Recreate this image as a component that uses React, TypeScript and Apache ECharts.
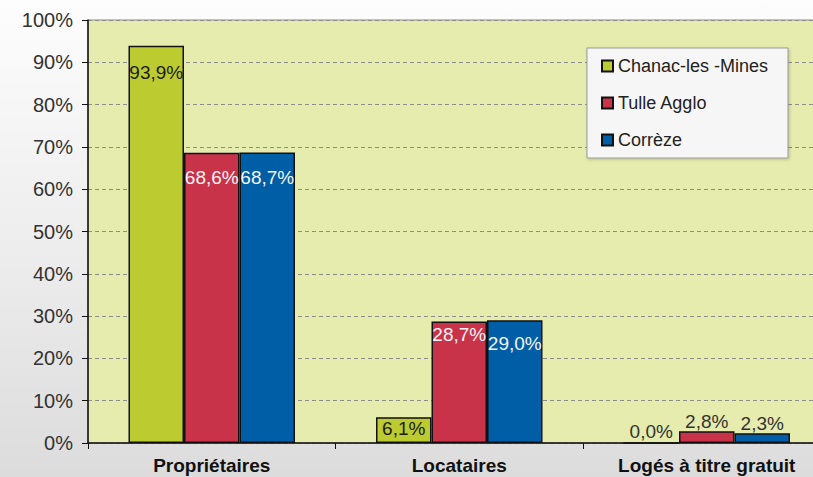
import React, { useEffect, useRef } from "react";
import * as echarts from "echarts";

// Statut d'occupation des résidences principales
const categories = ["Propriétaires", "Locataires", "Logés à titre gratuit"];
const seriesNames = ["Chanac-les -Mines", "Tulle Agglo", "Corrèze"];
const chanac = [93.9, 6.1, 0.0];
const tulle = [68.6, 28.7, 2.8];
const correze = [68.7, 29.0, 2.3];
const yTicks = [0, 10, 20, 30, 40, 50, 60, 70, 80, 90, 100];

const FONT = "'Liberation Sans', Arial, sans-serif";
const colors = ["#bccb30", "#c8334a", "#005ea6"];
const insideLabelColors = ["#1c1c1c", "#f4f4f4", "#f4f4f4"];

// label placement per series/category: [position, distance]
const labelPlacement: [string, number][][] = [
  [["insideTop", 17], ["insideTop", 2], ["top", 1]],
  [["insideTop", 15], ["insideTop", 3], ["top", 0]],
  [["insideTop", 16], ["insideTop", 14], ["top", 0]],
];

const fmt = (v: number) => v.toFixed(1).replace(".", ",") + "%";

export default function App() {
  const ref = useRef<HTMLDivElement>(null);

  useEffect(() => {
    if (!ref.current) return;
    const chart = echarts.init(ref.current, null, { renderer: "svg" });
    const values = [chanac, tulle, correze];

    const series = values.map((vals, s) => ({
      name: seriesNames[s],
      type: "bar",
      barWidth: 55.5,
      barGap: "0%",
      itemStyle: { color: colors[s], borderColor: "#111", borderWidth: 1.5 },
      data: vals.map((v, i) => {
        const [pos, dist] = labelPlacement[s][i];
        return {
          value: v,
          label: {
            show: true,
            position: pos,
            distance: dist,
            color: pos === "top" ? "#333" : insideLabelColors[s],
          },
        };
      }),
      label: {
        show: true,
        fontFamily: FONT,
        fontSize: 19,
        formatter: (p: any) => fmt(p.value),
      },
    }));

    chart.setOption({
      animation: false,
      backgroundColor: "transparent",
      textStyle: { fontFamily: FONT },
      grid: {
        left: 88,
        top: 20,
        width: 742.5,
        height: 423,
        outerBoundsMode: "none",
        containLabel: false,
        show: true,
        backgroundColor: "#e6ebae",
        borderColor: "#8a8a8a",
        borderWidth: 1,
      },
      graphic: [
        {
          type: "rect",
          z: 1,
          shape: { x: 587, y: 48, width: 201, height: 110 },
          style: {
            fill: "#f6f6f6",
            stroke: "#9a9a9a",
            lineWidth: 1,
            shadowBlur: 3,
            shadowColor: "rgba(0,0,0,0.2)",
            shadowOffsetX: 1,
            shadowOffsetY: 1,
          },
        },
      ],
      legend: {
        z: 5,
        orient: "vertical",
        left: 596,
        top: 48,
        padding: [9, 5, 9, 5],
        itemGap: 19,
        itemWidth: 11,
        itemHeight: 11,
        itemTextGap: 4,
        icon: "rect",
        data: seriesNames,
        textStyle: { fontFamily: FONT, fontSize: 18, color: "#222", lineHeight: 18 },
      },
      xAxis: {
        type: "category",
        data: categories,
        axisLine: { show: true, lineStyle: { color: "#111", width: 1.5 } },
        axisTick: { show: true, length: 6, interval: 0, lineStyle: { color: "#111" } },
        axisLabel: {
          interval: 0,
          fontFamily: FONT,
          fontSize: 19,
          lineHeight: 19,
          fontWeight: "bold",
          color: "#111",
          margin: 13,
        },
        splitLine: { show: false },
      },
      yAxis: {
        type: "value",
        min: yTicks[0],
        max: yTicks[yTicks.length - 1],
        interval: 10,
        axisLine: { show: true, lineStyle: { color: "#111", width: 1.5 } },
        axisTick: { show: true, length: 6, lineStyle: { color: "#111" } },
        axisLabel: {
          fontFamily: FONT,
          fontSize: 20,
          color: "#333",
          margin: 15,
          formatter: "{value}%",
        },
        splitLine: {
          show: true,
          lineStyle: { color: "#8c8c8c", type: [4, 3], width: 1 },
        },
      },
      series,
    });

    return () => chart.dispose();
  }, []);

  return (
    <div
      style={{
        position: "fixed",
        left: 0,
        top: 0,
        width: 813,
        height: 477,
        background: "linear-gradient(to bottom, #fdfdfd 0%, #ececec 55%, #dcdcdc 100%)",
      }}
    >
      <div ref={ref} style={{ width: 813, height: 477 }} />
    </div>
  );
}
